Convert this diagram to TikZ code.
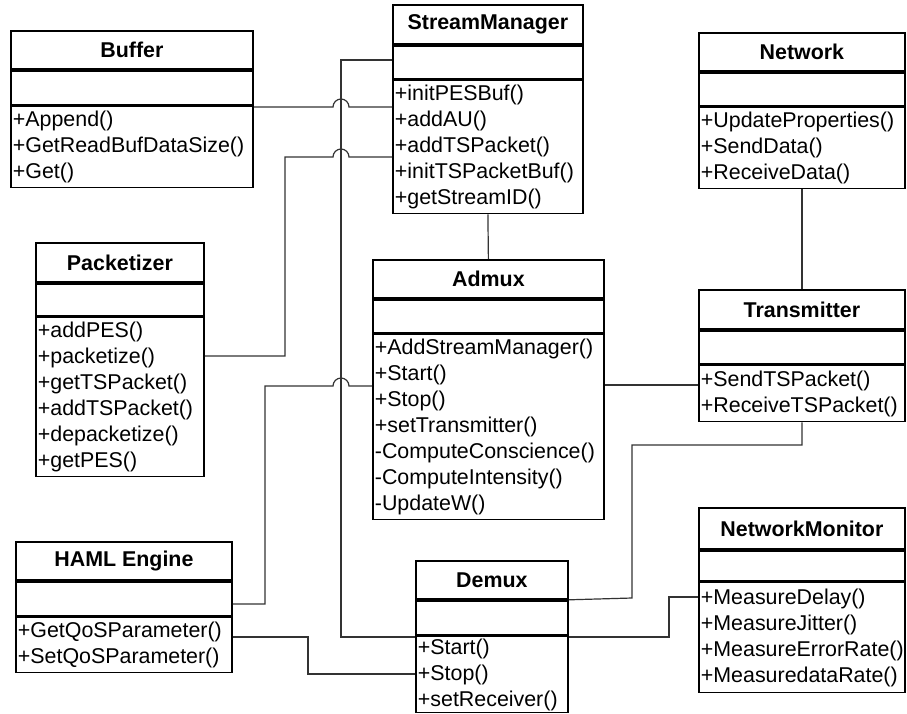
\documentclass[tikz,border=0pt]{standalone}
\usepackage{fontspec}
\setmainfont{Liberation Sans}
\usepackage{tikz}
\newcommand{\umlfont}{\fontsize{21.4pt}{26pt}\selectfont}

\begin{document}
\begin{tikzpicture}[x=1pt, y=1pt,
    classhead/.style={draw, line width=1.8pt, anchor=north west, inner sep=0pt, font=\umlfont\bfseries},
    classattr/.style={draw, line width=1.8pt, anchor=north west, inner sep=0pt},
    classops/.style={draw, line width=1.8pt, anchor=north west, align=left, inner xsep=2pt, inner ysep=0pt, font=\umlfont},
    assoc/.style={draw=black!80, line width=1.2pt}]
                        \useasboundingbox (0,0) rectangle (907,-713);

                        % classes
                        \node[classhead, minimum width=242pt, minimum height=38pt] (buf) at (10,-30) {Buffer};
                        \node[classattr, minimum width=242pt, minimum height=34pt] (buf-a) at (buf.south west) {};
                        \node[classops, text width=238pt, minimum height=81pt] (buf-m) at (buf-a.south west) {+Append()\\+GetReadBufDataSize()\\+Get()};

                        \node[classhead, minimum width=190pt, minimum height=39pt] (sm) at (392,-4) {StreamManager};
                        \node[classattr, minimum width=190pt, minimum height=33pt] (sm-a) at (sm.south west) {};
                        \node[classops, text width=186pt, minimum height=133pt] (sm-m) at (sm-a.south west) {+initPESBuf()\\+addAU()\\+addTSPacket()\\+initTSPacketBuf()\\+getStreamID()};

                        \node[classhead, minimum width=206pt, minimum height=38pt] (net) at (698,-32) {Network};
                        \node[classattr, minimum width=206pt, minimum height=33pt] (net-a) at (net.south west) {};
                        \node[classops, text width=202pt, minimum height=81pt] (net-m) at (net-a.south west) {+UpdateProperties()\\+SendData()\\+ReceiveData()};

                        \node[classhead, minimum width=168pt, minimum height=39pt] (pack) at (35,-242) {Packetizer};
                        \node[classattr, minimum width=168pt, minimum height=32pt] (pack-a) at (pack.south west) {};
                        \node[classops, text width=164pt, minimum height=159pt] (pack-m) at (pack-a.south west) {+addPES()\\+packetize()\\+getTSPacket()\\+addTSPacket()\\+depacketize()\\+getPES()};

                        \node[classhead, minimum width=231pt, minimum height=38pt] (admux) at (372,-259) {Admux};
                        \node[classattr, minimum width=231pt, minimum height=33pt] (admux-a) at (admux.south west) {};
                        \node[classops, text width=227pt, minimum height=185pt] (admux-m) at (admux-a.south west) {+AddStreamManager()\\+Start()\\+Stop()\\+setTransmitter()\\-ComputeConscience()\\-ComputeIntensity()\\-UpdateW()};

                        \node[classhead, minimum width=206pt, minimum height=39pt] (trans) at (698,-289) {Transmitter};
                        \node[classattr, minimum width=206pt, minimum height=33pt] (trans-a) at (trans.south west) {};
                        \node[classops, text width=202pt, minimum height=56pt] (trans-m) at (trans-a.south west) {+SendTSPacket()\\+ReceiveTSPacket()};

                        \node[classhead, minimum width=216pt, minimum height=38pt] (haml) at (15,-541) {HAML Engine};
                        \node[classattr, minimum width=216pt, minimum height=34pt] (haml-a) at (haml.south west) {};
                        \node[classops, text width=212pt, minimum height=55pt] (haml-m) at (haml-a.south west) {+GetQoSParameter()\\+SetQoSParameter()};

                        \node[classhead, minimum width=152pt, minimum height=38pt] (demux) at (415,-560) {Demux};
                        \node[classattr, minimum width=152pt, minimum height=34pt] (demux-a) at (demux.south west) {};
                        \node[classops, text width=148pt, minimum height=76pt] (demux-m) at (demux-a.south west) {+Start()\\+Stop()\\+setReceiver()};

                        \node[classhead, minimum width=206pt, minimum height=41pt] (mon) at (698,-507) {NetworkMonitor};
                        \node[classattr, minimum width=206pt, minimum height=30pt] (mon-a) at (mon.south west) {};
                        \node[classops, text width=202pt, minimum height=110pt] (mon-m) at (mon-a.south west) {+MeasureDelay()\\+MeasureJitter()\\+MeasureErrorRate()\\+MeasuredataRate()};

                        % associations
                        \draw[assoc] (buf-m.east |- 0,-107) -- (333,-107) arc[start angle=180, end angle=0, radius=8pt] -- (sm-m.west |- 0,-107);
                        \draw[assoc] (sm-a.west |- 0,-60) -- (341,-60) -- (341,-637) -- (demux-m.west |- 0,-637);
                        \draw[assoc] (pack-m.east |- 0,-356) -- (285,-356) -- (285,-157) -- (333,-157) arc[start angle=180, end angle=0, radius=8pt] -- (sm-m.west |- 0,-157);
                        \draw[assoc] (admux-m.west |- 0,-386) -- (349,-386) arc[start angle=0, end angle=180, radius=8pt] -- (265,-386) -- (265,-604) -- (haml-a.east |- 0,-604);
                        \draw[assoc] (haml-m.east |- 0,-637) -- (308,-637) -- (308,-674) -- (demux-m.west |- 0,-674);
                        \draw[assoc] (sm-m.south) -- (admux.north);
                        \draw[assoc] (admux-m.east |- 0,-385) -- (trans-m.west |- 0,-385);
                        \draw[assoc] (net-m.south) -- (trans.north);
                        \draw[assoc] (trans-m.south) -- (trans-m.south |- 0,-445) -- (632,-445) -- (632,-598) -- (demux.south east);
                        \draw[assoc] (mon-m.west |- 0,-597) -- (669,-597) -- (669,-637) -- (demux-m.east |- 0,-637);
\end{tikzpicture}
\end{document}
